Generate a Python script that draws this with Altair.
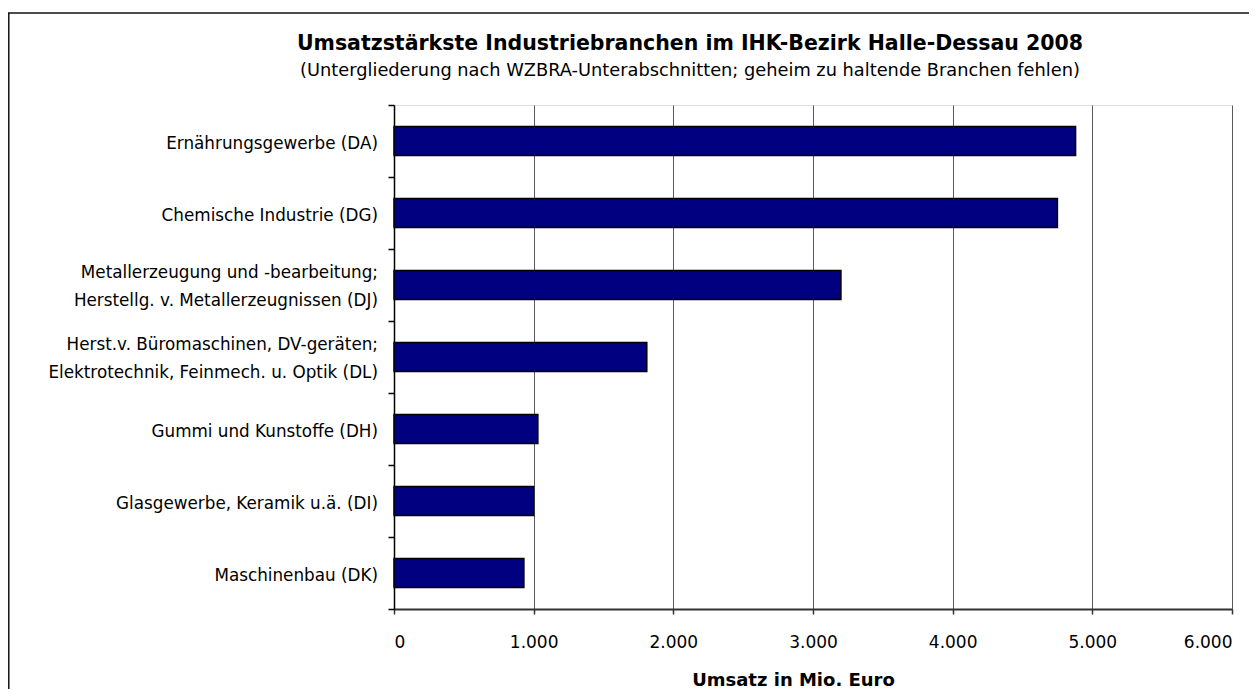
import altair as alt
import pandas as pd

categories = [
    "Ernährungsgewerbe (DA)",
    "Chemische Industrie (DG)",
    "Metallerzeugung und -bearbeitung;|Herstellg. v. Metallerzeugnissen (DJ)",
    "Herst.v. Büromaschinen, DV-geräten;|Elektrotechnik, Feinmech. u. Optik (DL)",
    "Gummi und Kunstoffe (DH)",
    "Glasgewerbe, Keramik u.ä. (DI)",
    "Maschinenbau (DK)",
]
values = [4880, 4750, 3200, 1810, 1030, 1000, 930]
x_ticks = [0, 1000, 2000, 3000, 4000, 5000, 6000]

title_text = "Umsatzstärkste Industriebranchen im IHK-Bezirk Halle-Dessau 2008"
subtitle_text = "(Untergliederung nach WZBRA-Unterabschnitten; geheim zu haltende Branchen fehlen)"
x_title = "Umsatz in Mio. Euro"

FONT = "DejaVu Sans"

df = pd.DataFrame({"branche": categories, "umsatz": values})

y_enc = alt.Y(
    "branche:N",
    sort=categories,
    scale=alt.Scale(paddingInner=0, paddingOuter=0),
    axis=alt.Axis(
        title=None,
        labels=False,
        tickBand="extent",
        grid=False,
        domainColor="#000000",
        domainWidth=1.5,
        tickColor="#000000",
        tickSize=6,
        tickWidth=1.5,
    ),
)

bars = alt.Chart(df).mark_bar(
    color="#000080", stroke="#000000", strokeWidth=1.5,
    height=alt.RelativeBandSize(0.4),
).encode(
    x=alt.X(
        "umsatz:Q",
        scale=alt.Scale(domain=[0, 6000], nice=False),
        axis=alt.Axis(
            values=x_ticks,
            title=x_title,
            labelExpr="replace(format(datum.value, ','), ',', '.')",
            grid=True,
            gridColor="#5a5a5a",
            gridWidth=1,
            domainColor="#333333",
            domainWidth=2,
            tickColor="#333333",
            tickSize=5,
            tickWidth=1.5,
            labelPadding=20,
            labelFontSize=17,
            labelFont=FONT,
            labelColor="#000000",
            titleFont=FONT,
            titleFontSize=18,
            titleFontWeight="bold",
            titleColor="#000000",
            titlePadding=21,
            titleX=399,
            titleAnchor="start",
            titleAlign="center",
        ),
    ),
    y=y_enc,
)

cat_labels = alt.Chart(df).transform_calculate(
    off="indexof(datum.branche, '|') >= 0 ? 24 : 38.5"
).mark_text(
    font=FONT, fontSize=16.8, color="#000000", align="right",
    baseline="middle", lineBreak="|", lineHeight=28
).encode(
    y=alt.Y("branche:N", sort=categories),
    yOffset=alt.YOffset("off:Q", scale=None),
    x=alt.value(-16),
    text="branche:N",
)

frame_df = pd.DataFrame({"k": [0]})
frame_left = alt.Chart(frame_df).mark_rule(color="#111111", strokeWidth=1.5).encode(
    x=alt.value(-385.2), y=alt.value(-92), y2=alt.value(600)
)
frame_top = alt.Chart(frame_df).mark_rule(color="#111111", strokeWidth=1.5).encode(
    x=alt.value(-386), x2=alt.value(870), y=alt.value(-92)
)

title_df = pd.DataFrame({"t": [title_text]})
subtitle_df = pd.DataFrame({"s": [subtitle_text]})

title_mark = alt.Chart(title_df).mark_text(
    font=FONT, fontSize=20.5, fontWeight="bold", color="#000000",
    align="center", baseline="alphabetic"
).encode(x=alt.value(296), y=alt.value(-55), text="t")

subtitle_mark = alt.Chart(subtitle_df).mark_text(
    font=FONT, fontSize=17.8, color="#000000",
    align="center", baseline="alphabetic"
).encode(x=alt.value(296), y=alt.value(-29), text="s")

chart = alt.layer(bars, cat_labels, frame_left, frame_top, title_mark, subtitle_mark).properties(
    width=838,
    height=504,
    autosize=alt.AutoSizeParams(type="none"),
    padding={"left": 386, "top": 97, "right": 17, "bottom": 80},
).configure_view(
    stroke="#909090", strokeWidth=2
).configure(
    background="#ffffff"
)

chart.save("out.html", embed_options={"renderer": "svg", "actions": False})
